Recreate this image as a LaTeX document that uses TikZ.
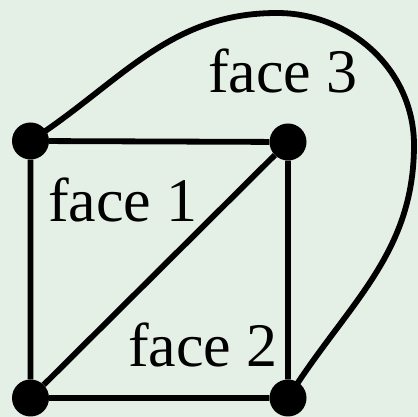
\documentclass[tikz,border=0pt]{standalone}
\usepackage{fontspec}
\setmainfont{Liberation Serif}
\usetikzlibrary{positioning}
\definecolor{bgreen}{HTML}{E4EFE5}
\tikzset{
  vertex/.style={circle, fill=black, inner sep=0pt, minimum size=37pt},
  edge/.style={line width=5.8pt},
  facelab/.style={anchor=base west, inner sep=0pt, font=\fontsize{62}{70}\selectfont},
}
\begin{document}
\begin{tikzpicture}[x=1pt,y=1pt]
  \fill[bgreen] (0,0) rectangle (418,417);
  \useasboundingbox (0,0) rectangle (418,417);
  % vertices
  \node[vertex] (tl) at (30.5,276) {};
  \node[vertex] (tr) at (288,275) {};
  \node[vertex] (bl) at (30.5,19) {};
  \node[vertex] (br) at (288,19) {};
  % waypoints of the outer edge
  \coordinate (top) at (277,404);
  \coordinate (rgt) at (414,272);
  % edges
  \draw[edge] (tl) -- (tr) -- (br) -- (bl) -- (tl);
  \draw[edge] (bl) -- (tr);
  \draw[edge] (tl.center) to[out=33,in=180] (top) to[out=0,in=90] (rgt)
    to[out=-90,in=58] (br.center);
  % labels
  \node[facelab] (f3) at (208,324) {face 3};
  \node[facelab] (f1) at (48,195) {face 1};
  \node[facelab] (f2) at (128,50) {face 2};
\end{tikzpicture}
\end{document}
